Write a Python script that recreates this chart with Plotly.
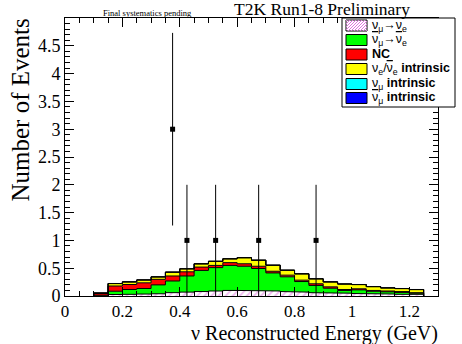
import plotly.graph_objects as go

# ---------------- data ----------------
bin_edges = [0.10, 0.15, 0.20, 0.25, 0.30, 0.35, 0.40, 0.45, 0.50, 0.55, 0.60, 0.65,
             0.70, 0.75, 0.80, 0.85, 0.90, 0.95, 1.00, 1.05, 1.10, 1.15, 1.20, 1.25]
numu_nue = [0.005, 0.027, 0.030, 0.035, 0.040, 0.060, 0.070, 0.080, 0.090, 0.100, 0.100, 0.100,
            0.090, 0.080, 0.070, 0.060, 0.055, 0.050, 0.045, 0.040, 0.035, 0.030, 0.030]
numubar_nuebar = [0.010, 0.059, 0.087, 0.100, 0.160, 0.210, 0.290, 0.380, 0.420, 0.450, 0.435, 0.395,
                  0.325, 0.265, 0.190, 0.130, 0.085, 0.050, 0.065, 0.045, 0.040, 0.035, 0.020]
nc = [0.030, 0.094, 0.090, 0.102, 0.100, 0.090, 0.075, 0.060, 0.040, 0.050, 0.045, 0.040,
      0.030, 0.030, 0.025, 0.030, 0.025, 0.017, 0.020, 0.015, 0.015, 0.015, 0.010]
nue_intrinsic = [0.008, 0.043, 0.046, 0.051, 0.043, 0.068, 0.053, 0.058, 0.073, 0.068, 0.108, 0.108,
                 0.108, 0.088, 0.113, 0.088, 0.088, 0.098, 0.075, 0.068, 0.055, 0.053, 0.055]
numu_intrinsic = [0.001, 0.001, 0.001, 0.001, 0.001, 0.001, 0.001, 0.001, 0.001, 0.001, 0.001, 0.001,
                  0.001, 0.001, 0.001, 0.001, 0.001, 0.001, 0.001, 0.001, 0.001, 0.001, 0.001]
numubar_intrinsic = [0.001, 0.001, 0.001, 0.001, 0.001, 0.001, 0.001, 0.001, 0.001, 0.001, 0.001, 0.001,
                     0.001, 0.001, 0.001, 0.001, 0.001, 0.001, 0.001, 0.001, 0.001, 0.001, 0.001]

data_x = [0.375, 0.425, 0.525, 0.675, 0.875]
data_y = [3, 1, 1, 1, 1]
data_err = [1.732, 1.0, 1.0, 1.0, 1.0]

x_ticks = [0, 0.2, 0.4, 0.6, 0.8, 1.0, 1.2]
x_tick_text = ["0", "0.2", "0.4", "0.6", "0.8", "1", "1.2"]
y_ticks = [0, 0.5, 1, 1.5, 2, 2.5, 3, 3.5, 4, 4.5]
y_tick_text = ["0", "0.5", "1", "1.5", "2", "2.5", "3", "3.5", "4", "4.5"]

NUBAR = '<span style="text-decoration:overline">ν</span>'
components = [
    ("ν<sub>μ</sub>→ν<sub>e</sub>", numu_nue, "white"),
    (NUBAR + "<sub>μ</sub>→" + NUBAR + "<sub>e</sub>", numubar_nuebar, "#00ff00"),
    ("<b>NC</b>", nc, "#ff0000"),
    ("ν<sub>e</sub>/" + NUBAR + "<sub>e</sub> <b>intrinsic</b>", nue_intrinsic, "#ffff00"),
    ("ν<sub>μ</sub> <b>intrinsic</b>", numu_intrinsic, "#00ffff"),
    (NUBAR + "<sub>μ</sub> <b>intrinsic</b>", numubar_intrinsic, "#0000ff"),
]

HATCH = "#e070e0"

# ---------------- geometry ----------------
W, H = 462, 344
L, R, T, B = 65, 24, 18, 48
PW, PH = W - L - R, H - T - B


def px(x):
    return (x - L) / PW


def py(y):
    return (H - B - y) / PH


def steps(edges, vals):
    xs, ys = [edges[0]], [0.0]
    for i, v in enumerate(vals):
        xs += [edges[i], edges[i + 1]]
        ys += [v, v]
    xs.append(edges[-1])
    ys.append(0.0)
    return xs, ys


fig = go.Figure()

cum = [0.0] * len(numu_nue)
for idx, (name, vals, col) in enumerate(components):
    cum = [c + v for c, v in zip(cum, vals)]
    xs, ys = steps(bin_edges, cum)
    kw = dict(x=xs, y=ys, mode="lines", line=dict(color="black", width=1),
              fill="tozeroy" if idx == 0 else "tonexty", showlegend=False,
              hoverinfo="skip")
    if idx == 0:
        kw["fillpattern"] = dict(shape="/", fgcolor=HATCH, bgcolor="white",
                                 size=5, solidity=0.35)
        kw["fillcolor"] = "white"
    else:
        kw["fillcolor"] = col
    fig.add_trace(go.Scatter(**kw))

fig.add_trace(go.Scatter(
    x=data_x, y=data_y, mode="markers",
    marker=dict(symbol="square", size=5, color="black"),
    error_y=dict(type="data", array=data_err, color="black", thickness=1, width=0),
    showlegend=False, hoverinfo="skip"))

serif = "Liberation Serif"
fig.update_layout(
    width=W, height=H, margin=dict(l=L, r=R, t=T, b=B),
    paper_bgcolor="white", plot_bgcolor="white", showlegend=False,
    font=dict(family=serif, color="black"),
)
fig.update_xaxes(range=[0, 1.3], tickvals=x_ticks, ticktext=x_tick_text,
                 ticks="inside", ticklen=9, tickcolor="black", showgrid=False, zeroline=False,
                 showline=True, linecolor="black", linewidth=1, mirror="ticks",
                 tickfont=dict(family=serif, size=17),
                 minor=dict(ticks="inside", dtick=0.05, tick0=0, ticklen=5, tickcolor="black",
                            showgrid=False))
fig.update_yaxes(range=[0, 5.0], tickvals=y_ticks, ticktext=y_tick_text,
                 ticks="inside", ticklen=9, tickcolor="black", showgrid=False, zeroline=False,
                 showline=True, linecolor="black", linewidth=1, mirror="ticks",
                 tickfont=dict(family=serif, size=18),
                 minor=dict(ticks="inside", dtick=0.1, tick0=0, ticklen=5, tickcolor="black",
                            showgrid=False))

ann = []
ann.append(dict(text="ν Reconstructed Energy (GeV)", x=px(440), y=py(333), xref="paper", yref="paper",
                xanchor="right", yanchor="middle", showarrow=False, font=dict(family=serif, size=20)))
ann.append(dict(text="Number of Events", x=px(20), y=py(17), xref="paper", yref="paper",
                xanchor="center", yanchor="top", textangle=-90, showarrow=False,
                font=dict(family=serif, size=25)))
ann.append(dict(text="T2K Run1-8 Preliminary", x=px(411), y=py(9), xref="paper", yref="paper",
                xanchor="right", yanchor="middle", showarrow=False, borderpad=0,
                font=dict(family=serif, size=17.5)))
ann.append(dict(text="Final systematics pending", x=px(147), y=py(13), xref="paper", yref="paper",
                xanchor="center", yanchor="middle", showarrow=False, font=dict(family=serif, size=8.5)))

shapes = []
shapes.append(dict(type="rect", xref="paper", yref="paper", x0=px(342), x1=px(455), y0=py(107), y1=py(18),
                   fillcolor="white", line=dict(color="black", width=1), layer="above"))
row_y = [25.5, 40, 54.5, 69, 84, 98]
for (name, vals, col), ry in zip(components, row_y):
    shp = dict(type="rect", xref="paper", yref="paper", x0=px(346), x1=px(367), y0=py(ry + 5.5), y1=py(ry - 5.5),
               fillcolor=col, line=dict(color="black", width=1), layer="above")
    shapes.append(shp)
    if col == "white":
        for k in range(-10, 22, 3):
            x0, x1 = 346 + k, 346 + k + 11
            y0, y1 = ry + 5.5, ry - 5.5
            cx0, cy0, cx1, cy1 = x0, y0, x1, y1
            if cx0 < 346:
                cy0 -= (346 - cx0); cx0 = 346
            if cx1 > 367:
                cy1 += (cx1 - 367); cx1 = 367
            if cx1 > cx0:
                shapes.append(dict(type="line", xref="paper", yref="paper", x0=px(cx0), y0=py(cy0),
                                   x1=px(cx1), y1=py(cy1), line=dict(color=HATCH, width=1),
                                   layer="above"))
    ann.append(dict(text=name, x=px(371), y=py(ry), xref="paper", yref="paper", xanchor="left",
                    yanchor="middle", showarrow=False, borderpad=0,
                    font=dict(family="Liberation Sans", size=12.5)))

fig.update_layout(annotations=ann, shapes=shapes)
fig.write_html("out.html")
